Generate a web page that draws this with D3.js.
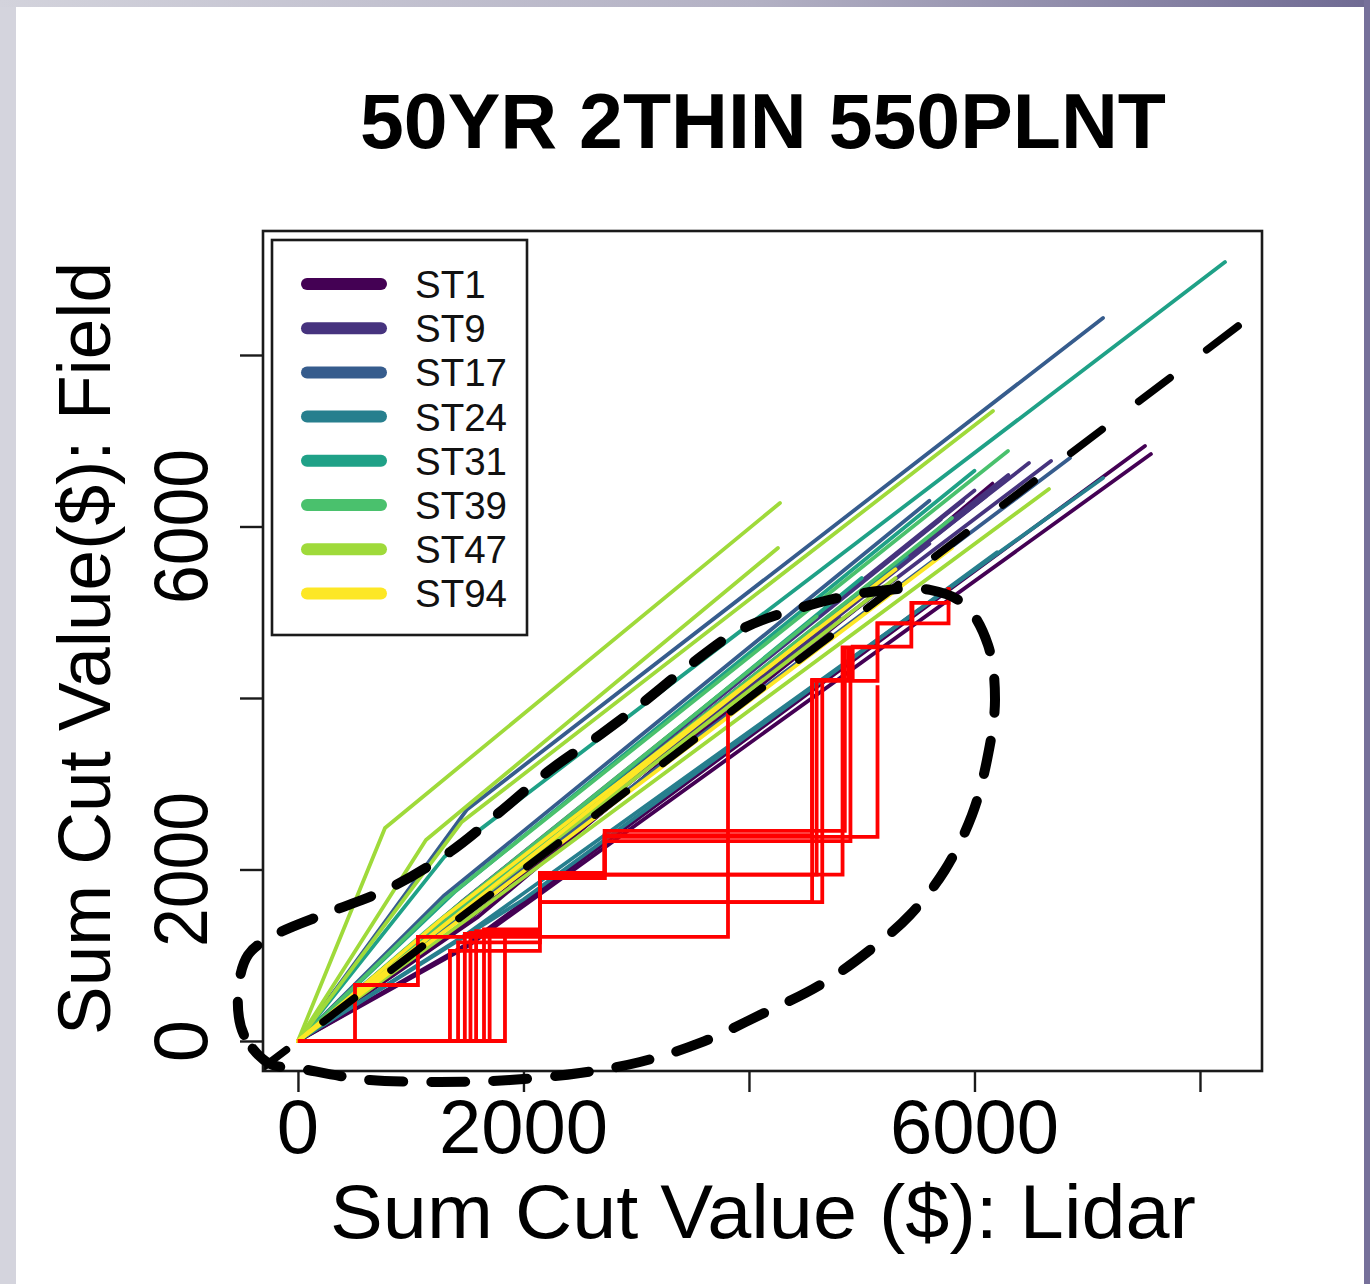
<!DOCTYPE html>
<html>
<head>
<meta charset="utf-8">
<script src="https://cdn.jsdelivr.net/npm/d3@7"></script>
<style>
  html, body { margin: 0; padding: 0; background: #fff; }
  svg { display: block; font-family: "Liberation Sans", Arial, Helvetica, sans-serif; }
</style>
</head>
<body>
<svg id="chart" width="1370" height="1284"></svg>
<script>
// ---- data: cumulative cut value, [Lidar $, Field $] per thinning entry ----
const stands = ["ST1", "ST9", "ST17", "ST24", "ST31", "ST39", "ST47", "ST94"];
const standColors = ["#440154", "#46337E", "#365C8D", "#277F8E", "#1FA187", "#4AC16D", "#9FDA3A", "#FDE725"];

const st1 = [
  [[0, 0], [1500, 1130], [7512, 6939]],
  [[0, 0], [1500, 1100], [7565, 6845]],
  [[0, 0], [1600, 1450], [6160, 6500]],
  [[0, 0], [1400, 1300], [5200, 5300]]
];
const st9 = [
  [[0, 0], [1500, 1650], [6483, 6740]],
  [[0, 0], [1500, 1600], [6679, 6764]],
  [[0, 0], [1400, 1560], [5900, 6300]],
  [[0, 0], [1450, 1520], [6100, 6350]],
  [[0, 0], [1500, 1500], [5600, 5800]],
  [[0, 0], [1450, 1580], [6300, 6600]],
  [[0, 0], [1400, 1540], [5700, 6080]],
  [[0, 0], [1450, 1620], [6000, 6420]],
  [[0, 0], [1300, 1300], [4800, 4950]]
];
const st17 = [
  [[0, 0], [1500, 2700], [7140, 8431]],
  [[0, 0], [1500, 1520], [6847, 6799]],
  [[0, 0], [1300, 1700], [5600, 6300]]
];
const st24 = [
  [[0, 0], [1500, 1250], [7140, 6566]],
  [[0, 0], [1400, 1450], [5400, 5650]],
  [[0, 0], [2000, 1650], [6200, 5700]]
];
const st31 = [
  [[0, 0], [1300, 2150], [8222, 9084]],
  [[0, 0], [1400, 1750], [6000, 6650]],
  [[0, 0], [1200, 1300], [5000, 5400]]
];
const st39 = [
  [[0, 0], [1300, 1650], [6297, 6881]],
  [[0, 0], [1400, 1500], [5800, 6100]],
  [[0, 0], [1200, 1350], [4600, 4950]]
];
const st47 = [
  [[0, 0], [772, 2484], [4275, 6274]],
  [[0, 0], [1135, 2344], [4257, 5749]],
  [[0, 0], [1450, 2550], [6164, 7347]],
  [[0, 0], [1500, 1420], [6661, 6437]],
  [[0, 0], [1300, 1350], [5300, 5400]]
];
const st94 = [
  [[0, 0], [1300, 1450], [5300, 5500]],
  [[0, 0], [1400, 1380], [5800, 5750]],
  [[0, 0], [1200, 1250], [4600, 4800]]
];
const standLines = [st1, st9, st17, st24, st31, st39, st47, st94];

// step series (drawn as steps: horizontal, then vertical)
const redSteps = [
  [[0, 0], [506, 653], [1064, 1213], [3814, 3825]],
  [[0, 0], [1348, 1050], [2146, 1620], [4560, 4210], [4920, 4600], [5440, 5110], [5770, 5290]],
  [[0, 0], [1420, 1150], [2146, 1940], [4830, 4590], [5140, 4870], [5450, 5110]],
  [[0, 0], [1480, 1250], [2146, 1620], [4650, 4210], [4880, 4600]],
  [[0, 0], [1530, 1260], [2146, 1940], [2720, 2400], [4560, 4200], [5140, 4870], [5770, 5290]],
  [[0, 0], [1580, 1280], [2146, 1900], [2720, 2330], [4900, 4590]],
  [[0, 0], [1650, 1300], [2146, 1940], [4600, 4200]],
  [[0, 0], [1700, 1290], [2146, 1960], [2720, 2380], [5140, 4150]],
  [[0, 0], [1836, 1290], [2146, 1900], [2720, 2450], [4850, 4600]]
];

// hand-drawn highlight loop, in data units
const outline = [
  [-248, -268], [-479, 70], [-532, 536], [-443, 1003], [-204, 1236], [284, 1504],
  [816, 1784], [1348, 2204], [1792, 2671], [2235, 3160], [2678, 3569], [3033, 3918],
  [3477, 4385], [3920, 4793], [4452, 5050], [5073, 5236], [5605, 5260], [5916, 5085],
  [6120, 4618], [6182, 3977], [6111, 3277], [5978, 2636], [5738, 1994], [5428, 1469],
  [5073, 1061], [4630, 653], [4097, 303], [3565, -23], [3033, -245], [2501, -373],
  [1880, -455], [1259, -478], [639, -455], [372, -408], [-9, -315]
];

const xTicks = [0, 2000, 4000, 6000, 8000];
const xTickLabels = ["0", "2000", "", "6000", ""];
const yTicks = [0, 2000, 4000, 6000, 8000];
const yTickLabels = ["0", "2000", "", "6000", ""];

const titleText = "50YR 2THIN 550PLNT";
const xTitle = "Sum Cut Value ($): Lidar";
const yTitle = "Sum Cut Value($): Field";

// ---- layout ----
const W = 1370, H = 1284;
const plot = { left: 263, right: 1262, top: 231, bottom: 1071 };

const svg = d3.select("#chart");

// slide frame around the figure
const defs = svg.append("defs");
const topGrad = defs.append("linearGradient").attr("id", "topGrad").attr("x1", "0").attr("x2", "1");
topGrad.append("stop").attr("offset", "0").attr("stop-color", "#d3d3dc");
topGrad.append("stop").attr("offset", "0.55").attr("stop-color", "#b3b1c4");
topGrad.append("stop").attr("offset", "1").attr("stop-color", "#6f6a93");
svg.append("rect").attr("x", 0).attr("y", 0).attr("width", W).attr("height", H).attr("fill", "#ffffff");
svg.append("rect").attr("x", 0).attr("y", 0).attr("width", 16).attr("height", H).attr("fill", "#d4d4dd");
svg.append("rect").attr("x", 0).attr("y", 0).attr("width", W).attr("height", 7).attr("fill", "url(#topGrad)");
svg.append("rect").attr("x", 1364).attr("y", 0).attr("width", 6).attr("height", H).attr("fill", "#76709a");

defs.append("clipPath").attr("id", "plotClip")
  .append("rect").attr("x", plot.left).attr("y", plot.top)
  .attr("width", plot.right - plot.left).attr("height", plot.bottom - plot.top);

const x = d3.scaleLinear().domain([-310, 8550]).range([plot.left, plot.right]);
const y = d3.scaleLinear().domain([-350, 9446]).range([plot.bottom, plot.top]);

const line = d3.line().x(d => x(d[0])).y(d => y(d[1]));
const stepLine = d3.line().x(d => x(d[0])).y(d => y(d[1])).curve(d3.curveStepAfter);

const gPlot = svg.append("g").attr("clip-path", "url(#plotClip)");

// stand trajectories
standLines.forEach((lines, i) => {
  gPlot.append("g")
    .selectAll("path")
    .data(lines)
    .join("path")
    .attr("d", line)
    .attr("fill", "none")
    .attr("stroke", standColors[i])
    .attr("stroke-width", 3.8)
    .attr("stroke-linejoin", "round")
    .attr("stroke-linecap", "round");
});

// step series
gPlot.append("g")
  .selectAll("path")
  .data(redSteps)
  .join("path")
  .attr("d", stepLine)
  .attr("fill", "none")
  .attr("stroke", "#ff0000")
  .attr("stroke-width", 3.8)
  .attr("stroke-linejoin", "miter");

// 1:1 reference line
gPlot.append("path")
  .attr("d", line([[x.domain()[0], x.domain()[0]], [x.domain()[1], x.domain()[1]]]))
  .attr("fill", "none")
  .attr("stroke", "#000")
  .attr("stroke-width", 7.5)
  .attr("stroke-dasharray", "39.5 45.9")
  .attr("stroke-dashoffset", 10)
  .attr("stroke-linecap", "round");

// plot box
svg.append("rect")
  .attr("x", plot.left).attr("y", plot.top)
  .attr("width", plot.right - plot.left).attr("height", plot.bottom - plot.top)
  .attr("fill", "none").attr("stroke", "#1a1a1a").attr("stroke-width", 2.6);

// axes (ticks only; labels placed below)
const xAxis = svg.append("g").attr("transform", `translate(0,${plot.bottom})`)
  .call(d3.axisBottom(x).tickValues(xTicks).tickSize(21).tickFormat(""));
const yAxis = svg.append("g").attr("transform", `translate(${plot.left},0)`)
  .call(d3.axisLeft(y).tickValues(yTicks).tickSize(23).tickFormat(""));
[xAxis, yAxis].forEach(g => {
  g.select(".domain").remove();
  g.selectAll(".tick line").attr("stroke", "#1a1a1a").attr("stroke-width", 2.4);
});

svg.append("g").selectAll("text")
  .data(xTicks.map((v, i) => ({ v, t: xTickLabels[i] })).filter(d => d.t))
  .join("text")
  .attr("x", d => x(d.v)).attr("y", 1153)
  .attr("text-anchor", "middle")
  .attr("font-size", 76)
  .attr("fill", "#000")
  .text(d => d.t);

svg.append("g").selectAll("text")
  .data(yTicks.map((v, i) => ({ v, t: yTickLabels[i] })).filter(d => d.t))
  .join("text")
  .attr("transform", d => `translate(207,${y(d.v)}) rotate(-90)`)
  .attr("text-anchor", "middle")
  .attr("font-size", 76)
  .attr("fill", "#000")
  .each(function (d) {
    const t = d3.select(this).text(d.t);
    if (d.t.length > 1) t.attr("textLength", 155).attr("lengthAdjust", "spacingAndGlyphs");
  });

// titles
svg.append("text")
  .attr("x", 763).attr("y", 148)
  .attr("text-anchor", "middle")
  .attr("font-size", 77).attr("font-weight", "bold")
  .attr("textLength", 806).attr("lengthAdjust", "spacingAndGlyphs")
  .attr("fill", "#000")
  .text(titleText);

svg.append("text")
  .attr("x", 763).attr("y", 1238)
  .attr("text-anchor", "middle")
  .attr("font-size", 76)
  .attr("textLength", 866).attr("lengthAdjust", "spacingAndGlyphs")
  .attr("fill", "#000")
  .text(xTitle);

svg.append("text")
  .attr("transform", `translate(110,${(262 + 1035) / 2}) rotate(-90)`)
  .attr("text-anchor", "middle")
  .attr("font-size", 75)
  .attr("textLength", 773).attr("lengthAdjust", "spacingAndGlyphs")
  .attr("fill", "#000")
  .text(yTitle);

// legend
const legend = svg.append("g");
legend.append("rect")
  .attr("x", 272).attr("y", 240).attr("width", 255).attr("height", 395)
  .attr("fill", "#fff").attr("stroke", "#1a1a1a").attr("stroke-width", 2.6);
const rows = legend.selectAll("g.row")
  .data(stands)
  .join("g")
  .attr("class", "row")
  .attr("transform", (d, i) => `translate(0,${284 + i * 44.2})`);
rows.append("line")
  .attr("x1", 307).attr("x2", 381).attr("y1", 0).attr("y2", 0)
  .attr("stroke", (d, i) => standColors[i])
  .attr("stroke-width", 12)
  .attr("stroke-linecap", "round");
rows.append("text")
  .attr("x", 415).attr("y", 14)
  .attr("font-size", 38.5)
  .attr("fill", "#111")
  .text(d => d);

// highlight loop drawn over everything
svg.append("path")
  .attr("d", d3.line().x(d => x(d[0])).y(d => y(d[1])).curve(d3.curveCatmullRomClosed.alpha(0.5))(outline))
  .attr("fill", "none")
  .attr("stroke", "#000")
  .attr("stroke-width", 10)
  .attr("stroke-dasharray", "34 28")
  .attr("stroke-linecap", "round");
</script>
</body>
</html>
